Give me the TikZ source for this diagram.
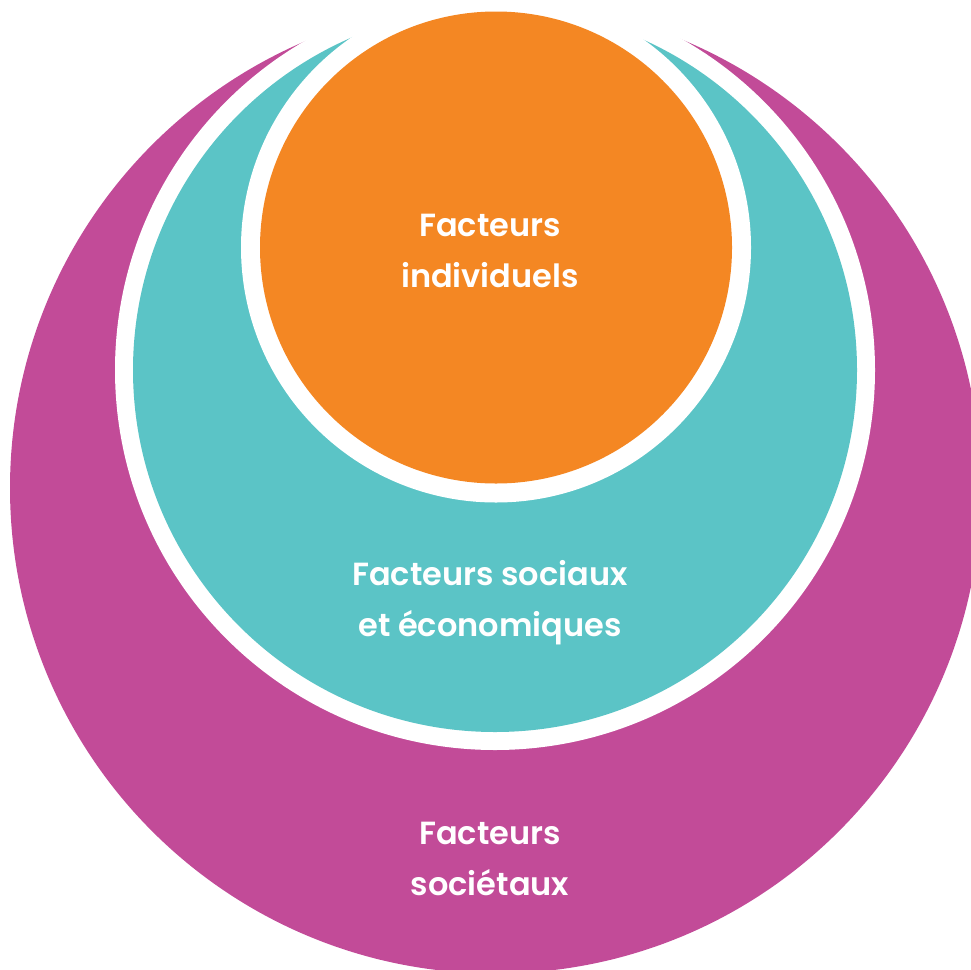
\documentclass[tikz,border=0pt]{standalone}
\usepackage{fontspec}
\newfontfamily\pop{Poppins SemiBold}
\definecolor{mag}{RGB}{194,75,152}
\definecolor{teal1}{RGB}{91,196,198}
\definecolor{orng}{RGB}{244,135,35}
\begin{document}
\begin{tikzpicture}[x=1pt,y=-1pt,
  disc/.style={circle,inner sep=0pt,outer sep=0pt,draw=none},
  lbl/.style={text=white,align=center,font=\pop\fontsize{32}{51}\selectfont,inner sep=0pt}]
\useasboundingbox (0,0) rectangle (971,969);
\clip (0,0) rectangle (971,969);
\node[disc,fill=mag,minimum size=971pt] (soc) at (495.5,488) {};
\node[disc,fill=white,minimum size=760pt] (ringB) at (495,370) {};
\node[disc,fill=teal1,minimum size=724pt] (eco) at (495,370) {};
\node[disc,fill=white,minimum size=510pt] (ringA) at (496,247.5) {};
\node[disc,fill=orng,minimum size=472pt] (ind) at (496,247.5) {};
\node[lbl] (tind) at (490,251) {Facteurs\\individuels};
\node[lbl] (teco) at (490,603) {Facteurs sociaux\\et économiques};
\node[lbl] (tsoc) at (490,859) {Facteurs\\sociétaux};
\end{tikzpicture}
\end{document}
